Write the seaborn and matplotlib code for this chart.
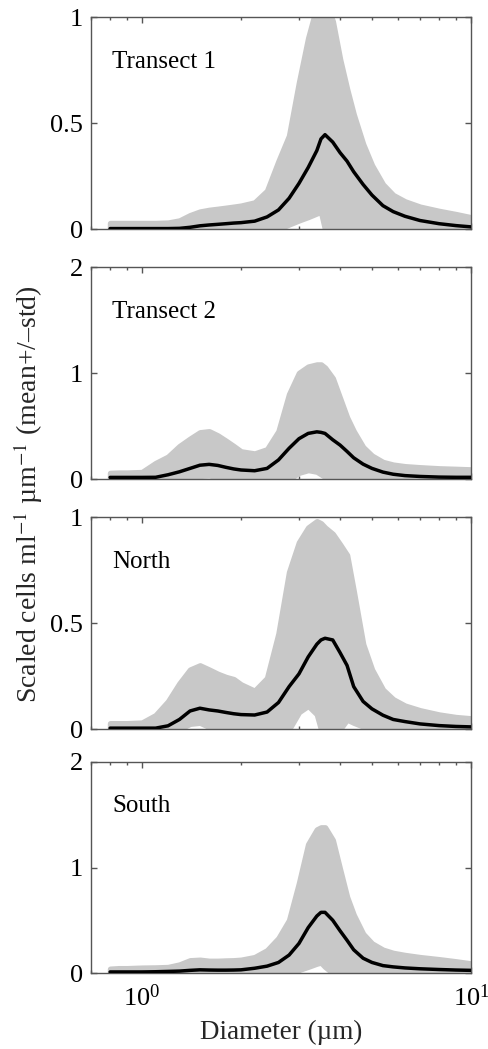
import numpy as np
import matplotlib
matplotlib.use("Agg")
import matplotlib.pyplot as plt
import seaborn as sns
from matplotlib.ticker import LogLocator, NullFormatter, FixedLocator

# ---------------- data ----------------
diameter = [0.8, 0.85, 0.9, 1.0, 1.1, 1.2, 1.3, 1.4, 1.5, 1.6, 1.7, 1.8, 1.9, 2.0,
            2.2, 2.4, 2.6, 2.8, 3.0, 3.2, 3.4, 3.5, 3.6, 3.8, 4.0, 4.2, 4.4, 4.7,
            5.0, 5.4, 5.8, 6.3, 7.0, 8.0, 9.0, 10.0]

panel_names = ["Transect 1", "Transect 2", "North", "South"]
y_max = [1, 2, 1, 2]
y_ticks = [[0, 0.5, 1], [0, 1, 2], [0, 0.5, 1], [0, 1, 2]]
y_ticklabels = [["0", "0.5", "1"], ["0", "1", "2"], ["0", "0.5", "1"], ["0", "1", "2"]]

mean_t1 = [0.002, 0.002, 0.002, 0.002, 0.002, 0.002, 0.003, 0.008, 0.015, 0.019, 0.022, 0.025,
           0.028, 0.030, 0.037, 0.057, 0.090, 0.145, 0.215, 0.290, 0.370, 0.425, 0.445, 0.410,
           0.360, 0.320, 0.270, 0.210, 0.160, 0.110, 0.082, 0.060, 0.040, 0.025, 0.016, 0.010]
upper_t1 = [0.028, 0.028, 0.028, 0.028, 0.028, 0.030, 0.040, 0.065, 0.082, 0.090, 0.095, 0.100,
            0.105, 0.110, 0.125, 0.180, 0.320, 0.440, 0.690, 0.900, 1.050, 1.080, 1.080, 0.980,
            0.800, 0.660, 0.540, 0.400, 0.300, 0.210, 0.160, 0.130, 0.105, 0.085, 0.070, 0.055]
lower_t1 = [0, 0, 0, 0, 0, 0, 0, 0, 0, 0, 0, 0, 0, 0, 0, 0, 0.0, 0.022, 0.041, 0.057, 0.074,
            0.082, 0.0, 0, 0, 0, 0, 0, 0, 0, 0, 0, 0, 0, 0, 0]

mean_t2 = [0.015, 0.015, 0.015, 0.015, 0.016, 0.040, 0.068, 0.100, 0.130, 0.138, 0.128, 0.110,
           0.095, 0.085, 0.078, 0.100, 0.180, 0.290, 0.380, 0.430, 0.445, 0.440, 0.430, 0.370,
           0.320, 0.260, 0.200, 0.140, 0.100, 0.065, 0.045, 0.032, 0.024, 0.018, 0.016, 0.016]
upper_t2 = [0.057, 0.060, 0.060, 0.065, 0.150, 0.210, 0.310, 0.380, 0.440, 0.450, 0.410, 0.360,
            0.310, 0.260, 0.240, 0.280, 0.450, 0.800, 1.000, 1.060, 1.080, 1.080, 1.050, 0.950,
            0.760, 0.580, 0.450, 0.300, 0.220, 0.160, 0.135, 0.120, 0.110, 0.100, 0.095, 0.090]
lower_t2 = [0, 0, 0, 0, 0, 0, 0, 0.0, 0.030, 0.035, 0.015, 0, 0, 0, 0, 0, 0, 0.0, 0.060, 0.085,
            0.070, 0.045, 0.020, 0, 0, 0, 0, 0, 0, 0, 0, 0, 0, 0, 0, 0]

mean_n = [0.004, 0.004, 0.004, 0.004, 0.004, 0.015, 0.045, 0.085, 0.098, 0.090, 0.085, 0.078,
          0.072, 0.068, 0.066, 0.080, 0.125, 0.200, 0.260, 0.340, 0.400, 0.420, 0.428, 0.420,
          0.360, 0.300, 0.200, 0.130, 0.095, 0.065, 0.045, 0.035, 0.024, 0.016, 0.012, 0.010]
upper_n = [0.027, 0.027, 0.027, 0.030, 0.065, 0.130, 0.215, 0.280, 0.300, 0.280, 0.260, 0.245,
           0.235, 0.210, 0.180, 0.240, 0.450, 0.740, 0.880, 0.950, 0.980, 0.970, 0.950, 0.920,
           0.870, 0.820, 0.650, 0.400, 0.280, 0.185, 0.140, 0.110, 0.088, 0.068, 0.056, 0.050]
lower_n = [0, 0, 0, 0, 0, 0, 0, 0.025, 0.030, 0.010, 0, 0, 0, 0, 0, 0, 0, 0.0, 0.080, 0.110,
           0.070, 0.0, 0, 0, 0, 0.045, 0.030, 0.012, 0, 0, 0, 0, 0, 0, 0, 0]

mean_s = [0.010, 0.010, 0.010, 0.010, 0.012, 0.015, 0.018, 0.025, 0.030, 0.028, 0.027, 0.027,
          0.028, 0.030, 0.045, 0.065, 0.100, 0.170, 0.280, 0.430, 0.540, 0.575, 0.575, 0.500,
          0.400, 0.310, 0.220, 0.140, 0.100, 0.070, 0.058, 0.048, 0.040, 0.033, 0.028, 0.025]
upper_s = [0.040, 0.045, 0.045, 0.050, 0.052, 0.056, 0.080, 0.120, 0.125, 0.115, 0.115, 0.118,
           0.120, 0.125, 0.150, 0.215, 0.330, 0.500, 0.850, 1.220, 1.360, 1.380, 1.380, 1.260,
           0.980, 0.720, 0.550, 0.370, 0.280, 0.220, 0.190, 0.170, 0.150, 0.130, 0.110, 0.090]
lower_s = [0, 0, 0, 0, 0, 0, 0, 0, 0, 0, 0, 0, 0, 0, 0, 0, 0, 0.0, 0.030, 0.060, 0.090,
           0.100, 0.060, 0.0, 0, 0, 0, 0, 0, 0, 0, 0, 0, 0, 0, 0]

means = [mean_t1, mean_t2, mean_n, mean_s]
uppers = [upper_t1, upper_t2, upper_n, upper_s]
lowers = [lower_t1, lower_t2, lower_n, lower_s]

# ---------------- style ----------------
sns.set_theme(style="ticks")
plt.rcParams["font.family"] = ["Liberation Serif", "DejaVu Serif"]
plt.rcParams["mathtext.fontset"] = "stix"
plt.rcParams["axes.edgecolor"] = "#555555"
plt.rcParams["axes.linewidth"] = 1.0
plt.rcParams["xtick.color"] = "#555555"
plt.rcParams["ytick.color"] = "#555555"
plt.rcParams["xtick.labelcolor"] = "black"
plt.rcParams["ytick.labelcolor"] = "black"

W, H = 488, 1049
fig = plt.figure(figsize=(W / 100, H / 100), dpi=100)
fig.patch.set_facecolor("white")

left = 91 / W
width = (471 - 91) / W
tops = [17, 267, 517, 762]
bottoms = [229, 479, 729, 973]

band_color = "#c8c8c8"
for i in range(4):
    ax = fig.add_axes([left, 1 - bottoms[i] / H, width, (bottoms[i] - tops[i]) / H])
    ax.set_xscale("log")
    d = np.array(diameter)
    ax.fill_between(d, lowers[i], uppers[i], color=band_color, lw=4,
                    edgecolor=band_color, joinstyle="round", zorder=1)
    sns.lineplot(x=diameter, y=means[i], ax=ax, color="black", lw=2.5, zorder=3,
                 estimator=None, sort=False)
    ax.set_xlim(0.7, 10)
    ax.set_ylim(0, y_max[i])
    ax.yaxis.set_major_locator(FixedLocator(y_ticks[i]))
    ax.set_yticklabels(y_ticklabels[i], fontsize=19)
    ax.xaxis.set_major_locator(LogLocator(base=10, numticks=10))
    ax.xaxis.set_minor_locator(LogLocator(base=10, subs=np.arange(2, 10) * 1.0, numticks=10))
    ax.xaxis.set_minor_formatter(NullFormatter())
    ax.tick_params(axis="both", which="both", direction="in", top=True, right=True)
    ax.tick_params(axis="both", which="major", length=4, width=1, pad=6)
    ax.tick_params(axis="x", which="minor", length=2.5, width=1)
    if i < 3:
        ax.set_xticklabels([])
    else:
        ax.tick_params(axis="x", labelsize=19, pad=8)
    for sp in ax.spines.values():
        sp.set_visible(True)
        sp.set_color("#555555")
    ax.text(0.055, 0.79, panel_names[i], transform=ax.transAxes, fontsize=18,
            ha="left", va="center", color="black")
    ax.set_xlabel("")
    ax.set_ylabel("")

fig.text(0.576, 0.016, "Diameter (µm)", ha="center", va="center", fontsize=19.5)
fig.text(0.057, 0.529, "Scaled cells ml$^{-1}$ µm$^{-1}$ (mean+/\u2013std)",
         rotation=90, ha="center", va="center", fontsize=20)

fig.savefig("out.png", dpi=100, facecolor="white")
